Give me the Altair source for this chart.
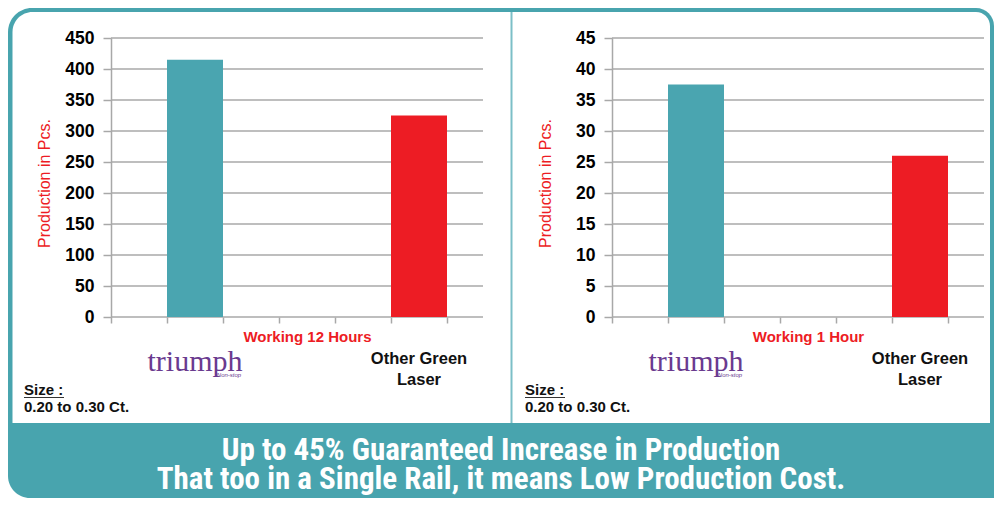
import altair as alt
import pandas as pd

# ---------------- data ----------------
machines = ["Triumph", "Other Green Laser"]
machine_labels = ["triumph", "Other Green\nLaser"]
pcs_12_hours = [415, 325]
pcs_1_hour = [37.5, 26]
bar_colors = ["#4aa5b0", "#ed1c24"]
# category slots of the x axis (only two of them carry a bar)
x_slots = [" ", "Triumph", "  ", "   ", "    ", "Other Green Laser"]
ticks_12_hours = [0, 50, 100, 150, 200, 250, 300, 350, 400, 450]
ticks_1_hour = [0, 5, 10, 15, 20, 25, 30, 35, 40, 45]
panel_titles = ["Working 12 Hours", "Working 1 Hour"]
y_title = "Production in Pcs."
size_head = "Size :"
size_text = "0.20 to 0.30 Ct."
banner_text = ("Up to 45% Guaranteed Increase in Production\n"
               "That too in a Single Rail, it means Low Production Cost.")

TEAL = "#48a4ae"
RED = "#ed1c24"
GRID = "#a8a8a8"
FONT = "Liberation Sans"

PW, PH = 372, 279  # plot area of each panel
one = pd.DataFrame({"k": [0]})

XSCALE = alt.Scale(domain=x_slots, paddingInner=0, paddingOuter=0.3214, align=0)


def y_axis(ticks):
    return alt.Axis(
        values=ticks, title=y_title, grid=False, zindex=1,
        domain=True, domainColor=GRID, domainWidth=1.5,
        ticks=True, tickColor=GRID, tickWidth=1.5, tickSize=8,
        labelFont=FONT, labelFontSize=17.5, labelFontWeight="bold",
        labelColor="#000000", labelPadding=9,
        titleColor=RED, titleFont=FONT, titleFontSize=16, titleFontWeight="normal",
        titleX=-67, titleY=145, titleAngle=270, titleAlign="center",
        titleBaseline="middle",
    )


def panel(values, ymax, ticks, xtitle, decorate):
    df = pd.DataFrame({"machine": machines, "label": machine_labels, "pcs": values})
    tdf = pd.DataFrame({"pcs": ticks})
    yscale = alt.Scale(domain=[0, ymax], nice=False, zero=True)
    yaxis = y_axis(ticks)

    xenc = alt.X(
        "machine:N", sort=None, scale=XSCALE,
        axis=alt.Axis(
            title=xtitle, labels=False, domain=False, grid=False, zindex=1,
            ticks=True, tickBand="extent", tickSize=6, tickColor=GRID, tickWidth=1.5,
            titleColor=RED, titleFont=FONT, titleFontSize=15, titleFontWeight="bold",
            titleX=196, titleY=19, titleBaseline="middle", titleAlign="center",
        ),
    )
    grid = alt.Chart(tdf).mark_rule(color=GRID, strokeWidth=1.5).encode(
        y=alt.Y("pcs:Q", scale=yscale, axis=yaxis))
    bars = alt.Chart(df).mark_bar(stroke=None).encode(
        x=xenc,
        y=alt.Y("pcs:Q", scale=yscale, axis=yaxis),
        color=alt.Color("machine:N", scale=alt.Scale(domain=machines, range=bar_colors), legend=None),
    )

    xlab = alt.X("machine:N", sort=None, scale=XSCALE)
    logo = alt.Chart(df).transform_filter(alt.datum.machine == machines[0]).mark_text(
        font="Liberation Serif", fontSize=30, color="#6a3a8f", baseline="alphabetic",
        align="center",
    ).encode(x=xlab, y=alt.value(333), text="label:N")
    logo_sub = alt.Chart(df).transform_filter(alt.datum.machine == machines[0]).mark_text(
        font=FONT, fontSize=6, fontStyle="italic", color="#6a3a8f", align="center",
        baseline="alphabetic", dx=34,
    ).encode(x=xlab, y=alt.value(339), text=alt.value("Non-stop"))
    other = alt.Chart(df).transform_filter(alt.datum.machine == machines[1]).mark_text(
        font=FONT, fontSize=16.5, fontWeight="bold", color="#111111", align="center",
        baseline="alphabetic", lineBreak="\n", lineHeight=21,
    ).encode(x=xlab, y=alt.value(326), text="label:N")

    size1 = alt.Chart(one).mark_text(
        font=FONT, fontSize=15, fontWeight="bold", color="#111111", align="left",
        baseline="alphabetic",
    ).encode(x=alt.value(-87), y=alt.value(357), text=alt.value(size_head))
    under = alt.Chart(one).mark_rule(color="#333333", strokeWidth=1.2).encode(
        x=alt.value(-87), x2=alt.value(-47), y=alt.value(359.5))
    size2 = alt.Chart(one).mark_text(
        font=FONT, fontSize=15, fontWeight="bold", color="#111111", align="left",
        baseline="alphabetic",
    ).encode(x=alt.value(-87), y=alt.value(374), text=alt.value(size_text))

    layers = []
    if decorate:
        frame = alt.Chart(one).mark_rect(
            color=TEAL, cornerRadiusTopLeft=24, cornerRadiusTopRight=18,
            cornerRadiusBottomLeft=22, cornerRadiusBottomRight=0,
        ).encode(x=alt.value(-103), x2=alt.value(883), y=alt.value(-30), y2=alt.value(460))
        inner = alt.Chart(one).mark_rect(
            color="#ffffff", cornerRadiusTopLeft=20, cornerRadiusTopRight=14,
        ).encode(x=alt.value(-98.5), x2=alt.value(879), y=alt.value(-26), y2=alt.value(385))
        divider = alt.Chart(one).mark_rect(color="#7cbfc7").encode(
            x=alt.value(399.5), x2=alt.value(401.5), y=alt.value(-26), y2=alt.value(385))
        banner = alt.Chart(one).mark_text(
            font="Roboto Condensed", fontSize=31, fontWeight="bold", color="#ffffff",
            align="center", baseline="alphabetic", lineBreak="\n", lineHeight=29,
        ).encode(x=alt.value(390), y=alt.value(422), text=alt.value(banner_text))
        layers = [frame, inner, divider, banner]
    layers += [grid, bars, logo, logo_sub, other, size1, under, size2]
    return alt.layer(*layers).properties(width=PW, height=PH)


left = panel(pcs_12_hours, 450, ticks_12_hours, panel_titles[0], True)
right = panel(pcs_1_hour, 45, ticks_1_hour, panel_titles[1], False)

chart = alt.hconcat(left, right, spacing=129, bounds="flush").properties(
    padding=0, background="#ffffff"
).configure_view(strokeWidth=0)

chart.save("out.html", embed_options={"renderer": "svg", "actions": False})
